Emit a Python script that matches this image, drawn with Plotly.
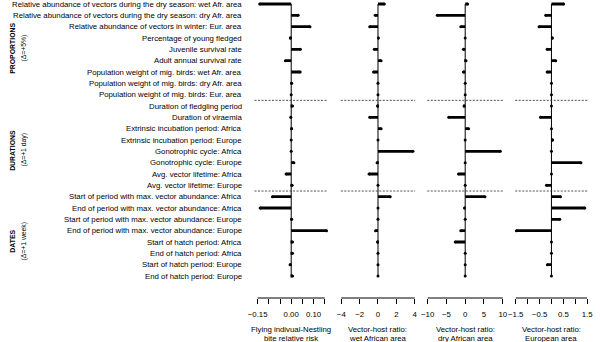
import plotly.graph_objects as go

labels = [
    "Relative abundance of vectors during the dry season: wet Afr. area",
    "Relative abundance of vectors during the dry season: dry Afr. area",
    "Relative abundance of vectors in winter: Eur. area",
    "Percentage of young fledged",
    "Juvenile survival rate",
    "Adult annual survival rate",
    "Population weight of mig. birds: wet Afr. area",
    "Population weight of mig. birds: dry Afr. area",
    "Population weight of mig. birds: Eur. area",
    "Duration of fledgling period",
    "Duration of viraemia",
    "Extrinsic incubation period: Africa",
    "Extrinsic incubation period: Europe",
    "Gonotrophic cycle: Africa",
    "Gonotrophic cycle: Europe",
    "Avg. vector lifetime: Africa",
    "Avg. vector lifetime: Europe",
    "Start of period with max. vector abundance: Africa",
    "End of period with max. vector abundance: Africa",
    "Start of period with max. vector abundance: Europe",
    "End of period with max. vector abundance: Europe",
    "Start of hatch period: Africa",
    "End of hatch period: Africa",
    "Start of hatch period: Europe",
    "End of hatch period: Europe",
]
rows = list(range(1, len(labels) + 1))

risk = [-0.141, 0.031, 0.084, -0.004, 0.041, -0.026, 0.040, 0.002, 0.0,
        0.006, -0.002, 0.002, 0.0, 0.0, 0.012, -0.023, 0.004,
        -0.084, -0.139, 0.002, 0.158, 0.006, 0.006, -0.005, 0.006]
vh_wet = [0.69, -0.30, -0.90, 0.05, -0.40, 0.34, -0.48, 0.0, 0.0,
          -0.05, -0.90, 0.34, 0.0, 3.81, -0.10, -0.98, 0.0,
          1.33, 0.0, 0.0, -0.27, -0.05, 0.0, 0.0, 0.0]
vh_dry = [0.65, -7.44, -1.17, 0.0, -0.47, 0.21, -0.47, 0.0, 0.0,
          -0.31, -4.39, 0.91, 0.0, 9.35, 0.0, -1.78, 0.0,
          5.27, -0.20, 0.0, -1.17, -2.66, 0.0, 0.0, 0.0]
vh_eur = [0.51, -0.24, -0.52, 0.04, -0.18, 0.18, -0.18, 0.0, 0.0,
          0.0, -0.46, 0.0, 0.05, 0.0, 1.24, 0.0, -0.21,
          0.38, 1.40, 0.35, -1.47, 0.0, 0.0, -0.17, 0.0]

group_names = ["PROPORTIONS", "DURATIONS", "DATES"]
group_deltas = ["(Δ=+5%)", "(Δ=+1 day)", "(Δ=+1 week)"]
group_label_rows = [4.88, 13.88, 21.9]
separators = [9.5, 17.5]

panels = [
    dict(vals=risk, dom=(253, 328), rng=(-0.164, 0.164),
         tickvals=[-0.15, -0.10, -0.05, 0.0, 0.05, 0.10, 0.15],
         ticktext=["−0.15", "", "", "0.00", "", "0.10", ""],
         title=["Flying indivual-Nestling", "bite relative risk"]),
    dict(vals=vh_wet, dom=(341.2, 417.2), rng=(-4.05, 4.05),
         tickvals=[-4, -2, 0, 2, 4],
         ticktext=["−4", "−2", "0", "2", "4"],
         title=["Vector-host ratio:", "wet African area"]),
    dict(vals=vh_dry, dom=(429.6, 507.1), rng=(-10.1, 10.1),
         tickvals=[-10, -5, 0, 5, 10],
         ticktext=["−10", "−5", "0", "5", "10"],
         title=["Vector-host ratio:", "dry African area"]),
    dict(vals=vh_eur, dom=(519.5, 593.5), rng=(-1.52, 1.52),
         tickvals=[-1.5, -1.0, -0.5, 0.0, 0.5, 1.0, 1.5],
         ticktext=["−1.5", "", "−0.5", "", "0.5", "", "1.5"],
         title=["Vector-host ratio:", "European area"]),
]

W, H = 600, 342
AXIS_PX = 298
FONT = "Liberation Sans, Arial, Helvetica, sans-serif"
FS = 7.8
ybottom = 1 - AXIS_PX / H
row_px = 11.335
y_top = 1 - 4 / row_px
y_bot = y_top + AXIS_PX / row_px
TITLE_PX = [329.5, 338.5]

fig = go.Figure()
shapes = []
annotations = []
layout_axes = {}

for i, p in enumerate(panels):
    n = "" if i == 0 else str(i + 1)
    xa = "x" + n
    fig.add_trace(go.Bar(x=p["vals"], y=rows, orientation="h", width=0.25,
                         marker=dict(color="black", line=dict(width=0)),
                         xaxis=xa, yaxis="y", cliponaxis=False,
                         showlegend=False))
    fig.add_trace(go.Scatter(x=p["vals"], y=rows, mode="markers",
                             marker=dict(symbol="circle", size=3, color="black"),
                             xaxis=xa, yaxis="y", cliponaxis=False,
                             showlegend=False))
    layout_axes["xaxis" + n] = dict(
        domain=[p["dom"][0] / W, p["dom"][1] / W], range=list(p["rng"]),
        anchor="y", tickmode="array", tickvals=p["tickvals"], ticktext=p["ticktext"],
        ticks="outside", ticklen=5, tickwidth=1, tickcolor="black",
        ticklabelstandoff=4,
        showline=False, showgrid=False, zeroline=False,
        tickfont=dict(family=FONT, size=FS, color="black"), fixedrange=True)
    shapes.append(dict(type="line", xref=xa, yref="paper",
                       x0=min(p["tickvals"]), x1=max(p["tickvals"]),
                       y0=ybottom, y1=ybottom, line=dict(color="black", width=1)))
    shapes.append(dict(type="line", xref=xa, yref="y", x0=0, x1=0,
                       y0=rows[0], y1=rows[-1], line=dict(color="black", width=1)))
    for s in separators:
        shapes.append(dict(type="line", xref=xa + " domain", yref="y", x0=0, x1=1,
                           y0=s, y1=s, line=dict(color="#222", width=0.8, dash="2px,1.5px")))
    for line_txt, ypx in zip(p["title"], TITLE_PX):
        annotations.append(dict(xref=xa, yref="paper",
                                x=(min(p["tickvals"]) + max(p["tickvals"])) / 2,
                                y=1 - ypx / H, yanchor="middle", xanchor="center",
                                text=line_txt, showarrow=False,
                                font=dict(family=FONT, size=FS, color="black")))

for r, lab in zip(rows, labels):
    annotations.append(dict(xref="paper", yref="y", x=242 / W, y=r,
                            xanchor="right", yanchor="middle", text=lab,
                            showarrow=False,
                            font=dict(family=FONT, size=FS, color="black")))

for name, delta, yc in zip(group_names, group_deltas, group_label_rows):
    annotations.append(dict(xref="paper", yref="y", x=6 / W, y=yc,
                            xanchor="center", yanchor="middle", textangle=-90,
                            text="<b>" + name + "</b>", showarrow=False,
                            font=dict(family=FONT, size=6.9, color="black")))
    annotations.append(dict(xref="paper", yref="y", x=17 / W, y=yc,
                            xanchor="center", yanchor="middle", textangle=-90,
                            text=delta, showarrow=False,
                            font=dict(family=FONT, size=6.8, color="black")))

fig.update_layout(
    width=W, height=H, margin=dict(l=0, r=0, t=0, b=0),
    paper_bgcolor="white", plot_bgcolor="white",
    barmode="overlay", showlegend=False,
    font=dict(family=FONT, color="black"),
    yaxis=dict(domain=[ybottom, 1], range=[y_bot, y_top], visible=False,
               fixedrange=True),
    shapes=shapes, annotations=annotations,
    **layout_axes,
)

fig.write_html("out.html", config={"displayModeBar": False})
